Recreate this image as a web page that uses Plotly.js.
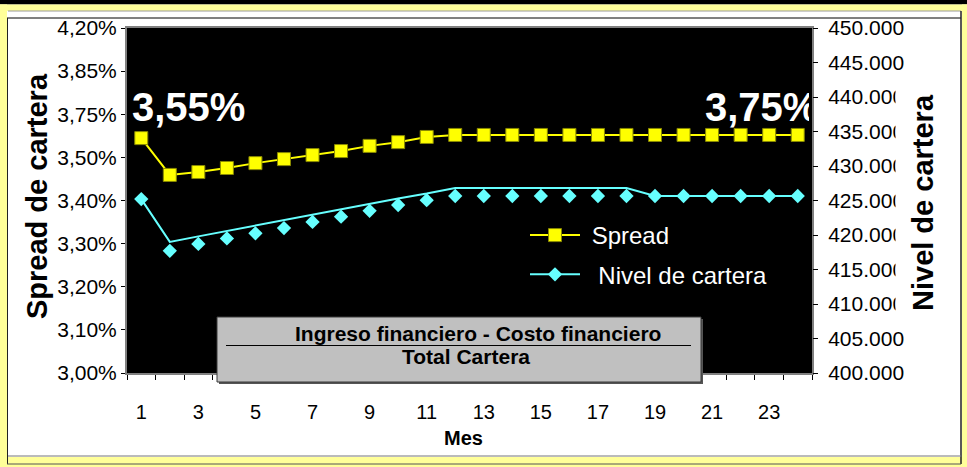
<!DOCTYPE html>
<html>
<head>
<meta charset="utf-8">
<script src="https://cdn.plot.ly/plotly-3.0.1.min.js"></script>
<style>
  html, body { margin: 0; padding: 0; background: #ffffff; }
  #chart { width: 967px; height: 467px; }
</style>
</head>
<body>
<div id="chart"></div>
<script>
// Months of the projection
const meses = [1, 2, 3, 4, 5, 6, 7, 8, 9, 10, 11, 12, 13, 14, 15, 16, 17, 18, 19, 20, 21, 22, 23, 24];

// Spread (left axis units)
const spread = [3.817, 3.689, 3.699, 3.713, 3.730, 3.744, 3.758, 3.772, 3.790, 3.803, 3.821, 3.828,
                3.828, 3.828, 3.828, 3.828, 3.828, 3.828, 3.828, 3.828, 3.828, 3.828, 3.828, 3.828];

// Nivel de cartera: trend line and monthly points (right axis)
const nivelLinea = [425200, 419000, 419800, 420600, 421400, 422100, 422900, 423700, 424500, 425300, 426000, 426800,
                    426800, 426800, 426800, 426800, 426800, 426800, 425650, 425650, 425650, 425650, 425650, 425650];
const nivelPuntos = [425200, 417700, 418700, 419500, 420250, 421000, 421900, 422650, 423500, 424350, 425050, 425650,
                     425650, 425650, 425650, 425650, 425650, 425650, 425650, 425650, 425650, 425650, 425650, 425650];

// Axis labels
const spreadTickVals = [3.00, 3.15, 3.30, 3.45, 3.60, 3.75, 3.90, 4.05, 4.20];
const spreadTickText = ['3,00%', '3,10%', '3,20%', '3,30%', '3,40%', '3,50%', '3,75%', '3,85%', '4,20%'];
const etiquetasMes = [1, 3, 5, 7, 9, 11, 13, 15, 17, 19, 21, 23];
const notasSpread = ['3,55%', '3,75%'];
const formula = ['Ingreso financiero - Costo financiero', 'Total Cartera'];

// Figure geometry (pixels) and helpers to convert to paper coordinates
const FW = 967, FH = 467;
const L = 127, R = 155, T = 28, B = 94;
const W = FW - L - R, H = FH - T - B;
const px = v => (v - L) / W;
const py = v => (FH - B - v) / H;

const FONT = 'Liberation Sans, Arial, Helvetica, sans-serif';
const AMARILLO = '#FFFF00';
const CIAN = '#66FFFF';
const MARCO = '#FFFF99';
const NBSP = '\u00a0';

const limitesMes = meses.map(m => m - 0.5).concat([meses[meses.length - 1] + 0.5]);

const traces = [
  {
    x: meses, y: spread, name: NBSP + 'Spread', type: 'scatter', mode: 'lines+markers',
    legendgroup: 'spread',
    line: { color: AMARILLO, width: 2 },
    marker: { symbol: 'square', size: 13, color: AMARILLO, line: { color: '#8a8a00', width: 1 } },
    cliponaxis: false, hoverinfo: 'x+y'
  },
  {
    x: meses, y: nivelLinea, yaxis: 'y2', type: 'scatter', mode: 'lines',
    name: 'Nivel de cartera', showlegend: false,
    line: { color: CIAN, width: 2 }, hoverinfo: 'skip'
  },
  {
    x: meses, y: nivelPuntos, yaxis: 'y2', type: 'scatter', mode: 'markers',
    name: 'Nivel de cartera', showlegend: false,
    marker: { symbol: 'diamond', size: 11, color: CIAN }, cliponaxis: false
  },
  {
    // legend entry for the Nivel de cartera series
    x: [null], y: [null], yaxis: 'y2', type: 'scatter', mode: 'lines+markers',
    name: NBSP + NBSP + 'Nivel de cartera', legendgroup: 'nivel',
    line: { color: CIAN, width: 2 },
    marker: { symbol: 'diamond', size: 11, color: CIAN }
  }
];

function rectPx(x0, y0, x1, y1, fill, layer) {
  return { type: 'rect', xref: 'paper', yref: 'paper', layer: layer || 'below',
           x0: px(x0), x1: px(x1), y0: py(y1), y1: py(y0),
           fillcolor: fill, line: { width: 0 } };
}
function linePx(x0, y0, x1, y1, color, width, layer) {
  return { type: 'line', xref: 'paper', yref: 'paper', layer: layer || 'below',
           x0: px(x0), x1: px(x1), y0: py(y0), y1: py(y1),
           line: { color: color, width: width } };
}

const shapes = [
  // outer frame
  rectPx(0, 0, FW, 4.5, '#000000'),
  rectPx(0, 4.5, FW, 11, MARCO),
  rectPx(0, 4.5, 7, FH, MARCO),
  rectPx(962, 4.5, FW, FH, MARCO),
  rectPx(0, 457, FW, FH, MARCO),
  linePx(8, 11, 961, 11, '#9a9a9a', 1),
  linePx(7, 18, 961, 18, '#000000', 1),
  linePx(7.5, 18, 7.5, 464, '#222222', 1),
  linePx(961, 11, 961, 464, '#222222', 1.5),
  linePx(8, 456, 961, 456, '#777777', 1),
  linePx(7, 464, 961, 464, '#555555', 1),
  // formula box
  rectPx(219, 319, 703, 384, '#555555', 'above'),
  { type: 'rect', xref: 'paper', yref: 'paper', layer: 'above',
    x0: px(217), x1: px(701), y0: py(382), y1: py(317),
    fillcolor: '#C0C0C0', line: { color: '#3a3a3a', width: 1 } },
  linePx(226, 345.5, 691, 345.5, '#000000', 1, 'above')
];

function nota(text, x, y, size, extra) {
  return Object.assign({
    text: text, xref: 'paper', yref: 'paper', x: px(x), y: py(y),
    xanchor: 'center', yanchor: 'middle', showarrow: false,
    font: { family: FONT, size: size, color: '#000000', weight: 700 }
  }, extra || {});
}

const annotations = [
  nota(notasSpread[0], 131, 107, 40, { xanchor: 'left', borderpad: 0,
    font: { family: FONT, size: 40, color: '#ffffff', weight: 700 } }),
  nota(notasSpread[1], 704, 107, 40, { xanchor: 'left', borderpad: 0, width: 104, align: 'left',
    font: { family: FONT, size: 40, color: '#ffffff', weight: 700 } }),
  nota('Spread de cartera', 37, 196, 29, { textangle: -90 }),
  nota('Nivel de cartera', 923, 203, 29, { textangle: -90, bgcolor: '#ffffff', borderpad: 11 }),
  nota('Mes', 463, 438, 20),
  nota(formula[0], 478, 333, 21),
  nota(formula[1], 466, 356, 21)
];

const layout = {
  width: FW, height: FH,
  margin: { l: L, r: R, t: T, b: B, pad: 0 },
  paper_bgcolor: '#ffffff',
  plot_bgcolor: '#000000',
  separators: ',.',
  font: { family: FONT, size: 20, color: '#000000' },
  showlegend: true,
  legend: {
    x: px(525), y: py(213), xanchor: 'left', yanchor: 'top',
    bgcolor: 'rgba(0,0,0,0)', borderwidth: 0,
    font: { family: FONT, size: 24, color: '#ffffff' },
    traceorder: 'grouped', tracegroupgap: 5, itemwidth: 50
  },
  xaxis: {
    range: [0.5, 24.5], tickmode: 'array', tickvals: etiquetasMes,
    ticktext: etiquetasMes.map(String), ticks: '',
    showgrid: false, zeroline: false, showline: true, linecolor: '#808080', linewidth: 2, mirror: true,
    tickfont: { family: FONT, size: 20, color: '#000000' }, ticklabelstandoff: 20,
    minor: { tickmode: 'array', tickvals: limitesMes, ticks: 'outside', ticklen: 5,
             tickcolor: '#000000', tickwidth: 1, showgrid: false },
    fixedrange: true
  },
  yaxis: {
    range: [3.0, 4.2], tickmode: 'array', tickvals: spreadTickVals, ticktext: spreadTickText,
    ticks: 'outside', ticklen: 4, tickcolor: '#000000', tickwidth: 1,
    showgrid: false, zeroline: false, showline: true, linecolor: '#808080', linewidth: 2, mirror: true,
    tickfont: { family: FONT, size: 21, color: '#000000' }, ticklabelstandoff: 0,
    fixedrange: true
  },
  yaxis2: {
    overlaying: 'y', side: 'right', range: [400000, 450000],
    tickmode: 'linear', tick0: 400000, dtick: 5000, tickformat: ',d',
    ticks: 'outside', ticklen: 5, tickcolor: '#000000', tickwidth: 1,
    showgrid: false, zeroline: false, showline: false,
    tickfont: { family: FONT, size: 21, color: '#000000' }, ticklabelstandoff: 6,
    fixedrange: true
  },
  shapes: shapes,
  annotations: annotations
};

Plotly.newPlot('chart', traces, layout, { displayModeBar: false, staticPlot: true });
</script>
</body>
</html>
